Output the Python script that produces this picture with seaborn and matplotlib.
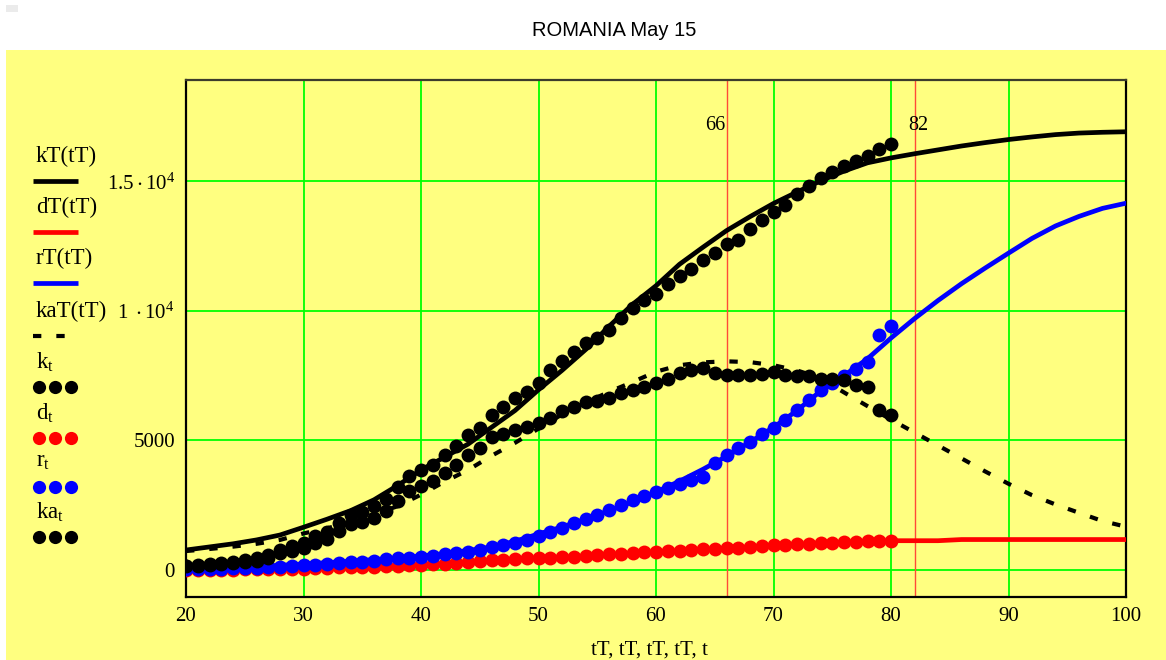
import matplotlib
matplotlib.use("Agg")
import matplotlib.pyplot as plt
from matplotlib.lines import Line2D
from matplotlib.patches import Rectangle
import pandas as pd
import seaborn as sns

# ---- observed daily series (day index t) ----
t = list(range(20, 81))
k = [158, 184, 217, 260, 308, 367, 433, 576, 762, 906,
     1029, 1292, 1452, 1815, 2109, 2245, 2460, 2738, 3183, 3613,
     3864, 4057, 4417, 4761, 5202, 5467, 5990, 6300, 6633, 6879,
     7216, 7707, 8067, 8418, 8746, 8936, 9242, 9710, 10096, 10417,
     10635, 11036, 11339, 11616, 11978, 12240, 12567, 12732, 13163, 13512,
     13837, 14107, 14499, 14811, 15131, 15362, 15588, 15778, 16002, 16247,
     16437]
d = [0, 0, 0, 2, 4, 8, 11, 17, 23, 32,
     46, 60, 72, 85, 98, 110, 122, 132, 146, 168,
     190, 210, 232, 262, 300, 330, 360, 392, 420, 445,
     455, 470, 485, 505, 530, 568, 590, 612, 640, 665,
     690, 712, 735, 760, 785, 805, 828, 850, 875, 900,
     935, 955, 975, 995, 1020, 1040, 1065, 1080, 1095, 1110,
     1120]
r = [20, 25, 30, 40, 50, 60, 80, 100, 120, 150,
     180, 200, 220, 250, 280, 310, 350, 400, 440, 470,
     500, 540, 590, 640, 700, 780, 860, 940, 1030, 1140,
     1300, 1450, 1600, 1800, 1950, 2110, 2300, 2500, 2680, 2850,
     3010, 3150, 3300, 3470, 3600, 4120, 4440, 4700, 4950, 5250,
     5460, 5800, 6170, 6550, 6950, 7200, 7470, 7750, 8040, 9070,
     9420]
ka = [130, 155, 185, 220, 255, 300, 350, 470, 630, 740,
      820, 1050, 1180, 1500, 1750, 1850, 2000, 2250, 2650, 3050,
      3250, 3420, 3750, 4050, 4430, 4700, 5140, 5250, 5400, 5530,
      5650, 5850, 6120, 6270, 6490, 6530, 6650, 6815, 6950, 7050,
      7200, 7350, 7600, 7700, 7780, 7590, 7520, 7540, 7520, 7560,
      7650, 7520, 7480, 7470, 7380, 7350, 7330, 7120, 7070, 6170,
      5980]

# ---- model curves (tT) ----
tT = list(range(20, 101, 2))
kT = [760, 880, 1000, 1150, 1340, 1640, 1950, 2280, 2700, 3250,
      3850, 4350, 4850, 5500, 6150, 6950, 7700, 8500, 9400, 10250,
      10970, 11800, 12460, 13100, 13640, 14150, 14590, 15020, 15400, 15720,
      15910, 16070, 16220, 16370, 16500, 16620, 16720, 16810, 16870, 16900,
      16920]
dT = [0, 0, 4, 11, 23, 46, 72, 98, 122, 146,
      190, 232, 300, 360, 420, 455, 485, 530, 590, 640,
      690, 735, 785, 828, 875, 935, 975, 1020, 1065, 1095,
      1120, 1120, 1120, 1165, 1165, 1165, 1165, 1165, 1165, 1165,
      1165]
rT = [40, 70, 100, 130, 170, 220, 270, 330, 390, 450,
      530, 620, 740, 880, 1100, 1380, 1650, 1950, 2280, 2620,
      3000, 3420, 3880, 4380, 4930, 5500, 6150, 6900, 7500, 8150,
      8950, 9700, 10400, 11050, 11650, 12230, 12800, 13280, 13650, 13960,
      14160]
kaT = [720, 800, 890, 1000, 1150, 1400, 1600, 1830, 2150, 2450,
       2900, 3400, 3850, 4400, 4900, 5450, 6000, 6450, 6870, 7250,
       7650, 7900, 8010, 8050, 8020, 7900, 7700, 7400, 6850, 6320,
       5800, 5300, 4800, 4300, 3800, 3320, 2880, 2520, 2200, 1880,
       1660]

marker_days = [66, 82]
xticks = [20, 30, 40, 50, 60, 70, 80, 90, 100]
yticks = [0, 5000, 10000, 15000]
ytick_labels = ["0", "5000",
                r"$\mathregular{1\ \cdot 10^{4}}$",
                r"$\mathregular{1.5\cdot 10^{4}}$"]
title = "ROMANIA May 15"
xlabel = "tT, tT, tT, tT, t"

sns.set_style("white")
plt.rcParams["font.family"] = ["Liberation Serif", "DejaVu Serif"]
plt.rcParams["mathtext.fontset"] = "stix"
plt.rcParams["text.color"] = "black"
plt.rcParams["axes.labelcolor"] = "black"
plt.rcParams["xtick.color"] = "black"
plt.rcParams["ytick.color"] = "black"

YEL = "#FFFF80"
GRID = "#00FF00"
W, H = 1166, 660

fig = plt.figure(figsize=(W / 100, H / 100), dpi=100)
fig.patch.set_facecolor("white")
fig.patches.append(Rectangle((6 / W, 0), 1 - 6 / W, 1 - 50 / H,
                             transform=fig.transFigure, facecolor=YEL,
                             edgecolor="none", zorder=-10))
fig.patches.append(Rectangle((6 / W, 1 - 12 / H), 12 / W, 7 / H,
                             transform=fig.transFigure, facecolor="#EBEBEB",
                             edgecolor="none", zorder=-10))

ax = fig.add_axes([186 / W, 1 - 597 / H, 940 / W, 517 / H])
ax.set_zorder(1)
ax.set_facecolor(YEL)

model = pd.DataFrame({"tT": tT, "kT": kT, "dT": dT, "rT": rT, "kaT": kaT})
obs = pd.DataFrame({"t": t, "k": k, "d": d, "r": r, "ka": ka})

LW = 3.4
sns.lineplot(data=model, x="tT", y="kT", ax=ax, color="black", lw=LW,
             estimator=None, sort=False, zorder=3)
sns.lineplot(data=model, x="tT", y="dT", ax=ax, color="#FF0000", lw=LW,
             estimator=None, sort=False, zorder=3)
sns.lineplot(data=model, x="tT", y="rT", ax=ax, color="#0000FF", lw=LW,
             estimator=None, sort=False, zorder=3)
sns.lineplot(data=model, x="tT", y="kaT", ax=ax, color="black", lw=3.0,
             estimator=None, sort=False, zorder=3)
ax.lines[-1].set_dashes((2.0, 3.6))
ax.lines[-1].set_dash_capstyle("butt")

S = 100
for col, c in [("k", "black"), ("d", "#FF0000"), ("r", "#0000FF"), ("ka", "black")]:
    sns.scatterplot(data=obs, x="t", y=col, ax=ax, color=c, s=S,
                    linewidth=0, zorder=4, legend=False)

# vertical day markers
for day in marker_days:
    ax.axvline(day, color="#FF4A38", lw=1.0, zorder=2)
ax.text(66 - 0.1, 17180, "66", ha="right", va="center", fontsize=14.5)
ax.text(81.5, 17180, "82", ha="left", va="center", fontsize=14.5)

ax.set_xlim(20, 100)
ax.set_ylim(-1055, 18920)
ax.set_xticks(xticks)
ax.set_xticklabels([str(v) for v in xticks])
ax.set_yticks(yticks)
ax.set_yticklabels(ytick_labels)
ax.tick_params(length=0, labelsize=15, colors="black")
ax.tick_params(axis="y", pad=8)
ax.tick_params(axis="x", pad=7)
ax.grid(True, color=GRID, lw=1.3)
ax.set_axisbelow(True)
for s in ax.spines.values():
    s.set_visible(True)
    s.set_color("black")
    s.set_linewidth(1.6)
ax.spines["top"].set_color("#3c3c2c")

ax.set_xlabel(xlabel, fontsize=15)
ax.set_ylabel("")
ax.xaxis.set_label_coords((649.5 - 186) / 940, (597 - 641) / 517)

fig.text(614 / W, 1 - 30 / H, title, ha="center", va="center",
         fontsize=14.5, family=["Liberation Sans", "DejaVu Sans"])

# legend drawn at the left margin
def fx(px):
    return px / W


def fy(py):
    return 1 - py / H


entries = [
    ("kT(tT)", 156, "line", "black"),
    ("dT(tT)", 207, "line", "#FF0000"),
    ("rT(tT)", 258, "line", "#0000FF"),
    ("kaT(tT)", 311, "dash", "black"),
    (r"$\mathregular{k_t}$", 362, "dots", "black"),
    (r"$\mathregular{d_t}$", 413, "dots", "#FF0000"),
    (r"$\mathregular{r_t}$", 462, "dots", "#0000FF"),
    (r"$\mathregular{ka_t}$", 512, "dots", "black"),
]
for label, ty, kind, c in entries:
    fig.text(fx(36), fy(ty), label, ha="left", va="center", fontsize=16.5)
    sy = ty + 25
    if kind == "line":
        fig.add_artist(Line2D([fx(33), fx(78)], [fy(sy), fy(sy)],
                              transform=fig.transFigure, color=c, lw=3.4,
                              solid_capstyle="butt"))
    elif kind == "dash":
        ln = Line2D([fx(33), fx(79)], [fy(sy), fy(sy)],
                    transform=fig.transFigure, color=c, lw=3.0,
                    dash_capstyle="butt")
        ln.set_dashes((2.0, 3.6))
        fig.add_artist(ln)
    else:
        fig.add_artist(Line2D([fx(38.5), fx(54.5), fx(70.5)], [fy(sy)] * 3,
                              transform=fig.transFigure, color=c, lw=0,
                              marker="o", markersize=9.5, markeredgewidth=0))

fig.savefig("out.png", dpi=100, facecolor=fig.get_facecolor())
